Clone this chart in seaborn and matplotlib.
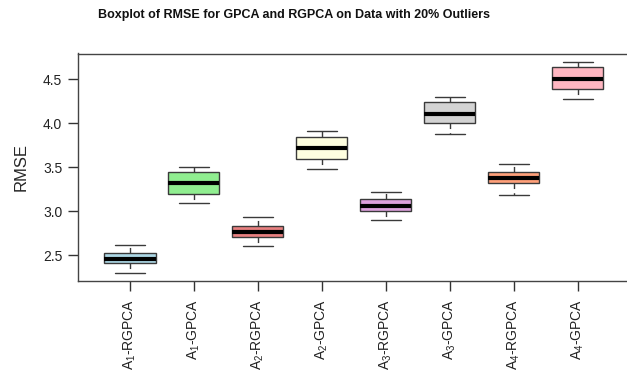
import numpy as np
import pandas as pd
import matplotlib
matplotlib.use("Agg")
import matplotlib.pyplot as plt
import seaborn as sns

# Method labels (x axis) and box fill colours
methods = [r"A$_1$-RGPCA", r"A$_1$-GPCA", r"A$_2$-RGPCA", r"A$_2$-GPCA",
           r"A$_3$-RGPCA", r"A$_3$-GPCA", r"A$_4$-RGPCA", r"A$_4$-GPCA"]
colors = ["#ADD8E6", "#90EE90", "#E88080", "#FFFFE0",
          "#DDA0DD", "#D3D3D3", "#FFA07A", "#FFB6C1"]

# RMSE summaries per method: lower whisker, Q1, median, Q3, upper whisker
a1_rgpca = [2.30, 2.405, 2.458, 2.527, 2.615]
a1_gpca = [3.09, 3.200, 3.317, 3.443, 3.500]
a2_rgpca = [2.60, 2.705, 2.766, 2.835, 2.930]
a2_gpca = [3.48, 3.597, 3.715, 3.845, 3.910]
a3_rgpca = [2.897, 3.003, 3.064, 3.140, 3.220]
a3_gpca = [3.882, 4.005, 4.107, 4.248, 4.306]
a4_rgpca = [3.188, 3.317, 3.380, 3.443, 3.539]
a4_gpca = [4.278, 4.396, 4.504, 4.645, 4.700]

series = [a1_rgpca, a1_gpca, a2_rgpca, a2_gpca,
          a3_rgpca, a3_gpca, a4_rgpca, a4_gpca]
yticks = [2.5, 3.0, 3.5, 4.0, 4.5]

df = pd.DataFrame({
    "Method": np.repeat(methods, [len(s) for s in series]),
    "RMSE": np.concatenate(series),
})

sns.set_style("white")
plt.rcParams["font.family"] = ["Liberation Sans", "DejaVu Sans"]
plt.rcParams["mathtext.fontset"] = "custom"
plt.rcParams["mathtext.rm"] = "Liberation Sans"
plt.rcParams["mathtext.it"] = "Liberation Sans:italic"

fig = plt.figure(figsize=(6.27, 3.75), dpi=100)
ax = fig.add_axes([77.5 / 627, 1 - 281 / 375, (630 - 77.5) / 627, (281 - 53.5) / 375])

edge = "#3a3a3a"
sns.boxplot(data=df, x="Method", y="RMSE", hue="Method", palette=colors,
            order=methods, hue_order=methods, legend=False, whis=np.inf,
            width=0.8, saturation=1, ax=ax, linecolor=edge, linewidth=1.0,
            boxprops=dict(edgecolor=edge, linewidth=1.0),
            medianprops=dict(color="black", linewidth=3, solid_capstyle="butt"),
            whiskerprops=dict(color=edge, linewidth=1.0, linestyle=(0, (4, 3))),
            capprops=dict(color=edge, linewidth=1.0),
            capwidths=0.47)

ax.set_xlim(-0.82, 7.82)
ax.set_ylim(2.204, 4.796)
ax.set_yticks(yticks)
ax.set_yticklabels([f"{v:.1f}" for v in yticks])
ax.set_xlabel("")
ax.set_ylabel("RMSE", fontsize=12, labelpad=10)
ax.tick_params(axis="both", direction="out", length=7, width=1, color="#333333",
               labelsize=10, labelcolor="#222222", left=True, bottom=True)
ax.tick_params(axis="y", pad=4)
ax.tick_params(axis="x", pad=6)
plt.setp(ax.get_xticklabels(), rotation=90)
for s in ax.spines.values():
    s.set_color("#444444")
    s.set_linewidth(1.0)

fig.text(0.5 * (103 + 485) / 627, 1 - 15 / 375,
         "Boxplot of RMSE for GPCA and RGPCA on Data with 20% Outliers",
         ha="center", va="center", fontsize=9, fontweight="bold", color="#111111")

fig.savefig("out.png", dpi=100)
